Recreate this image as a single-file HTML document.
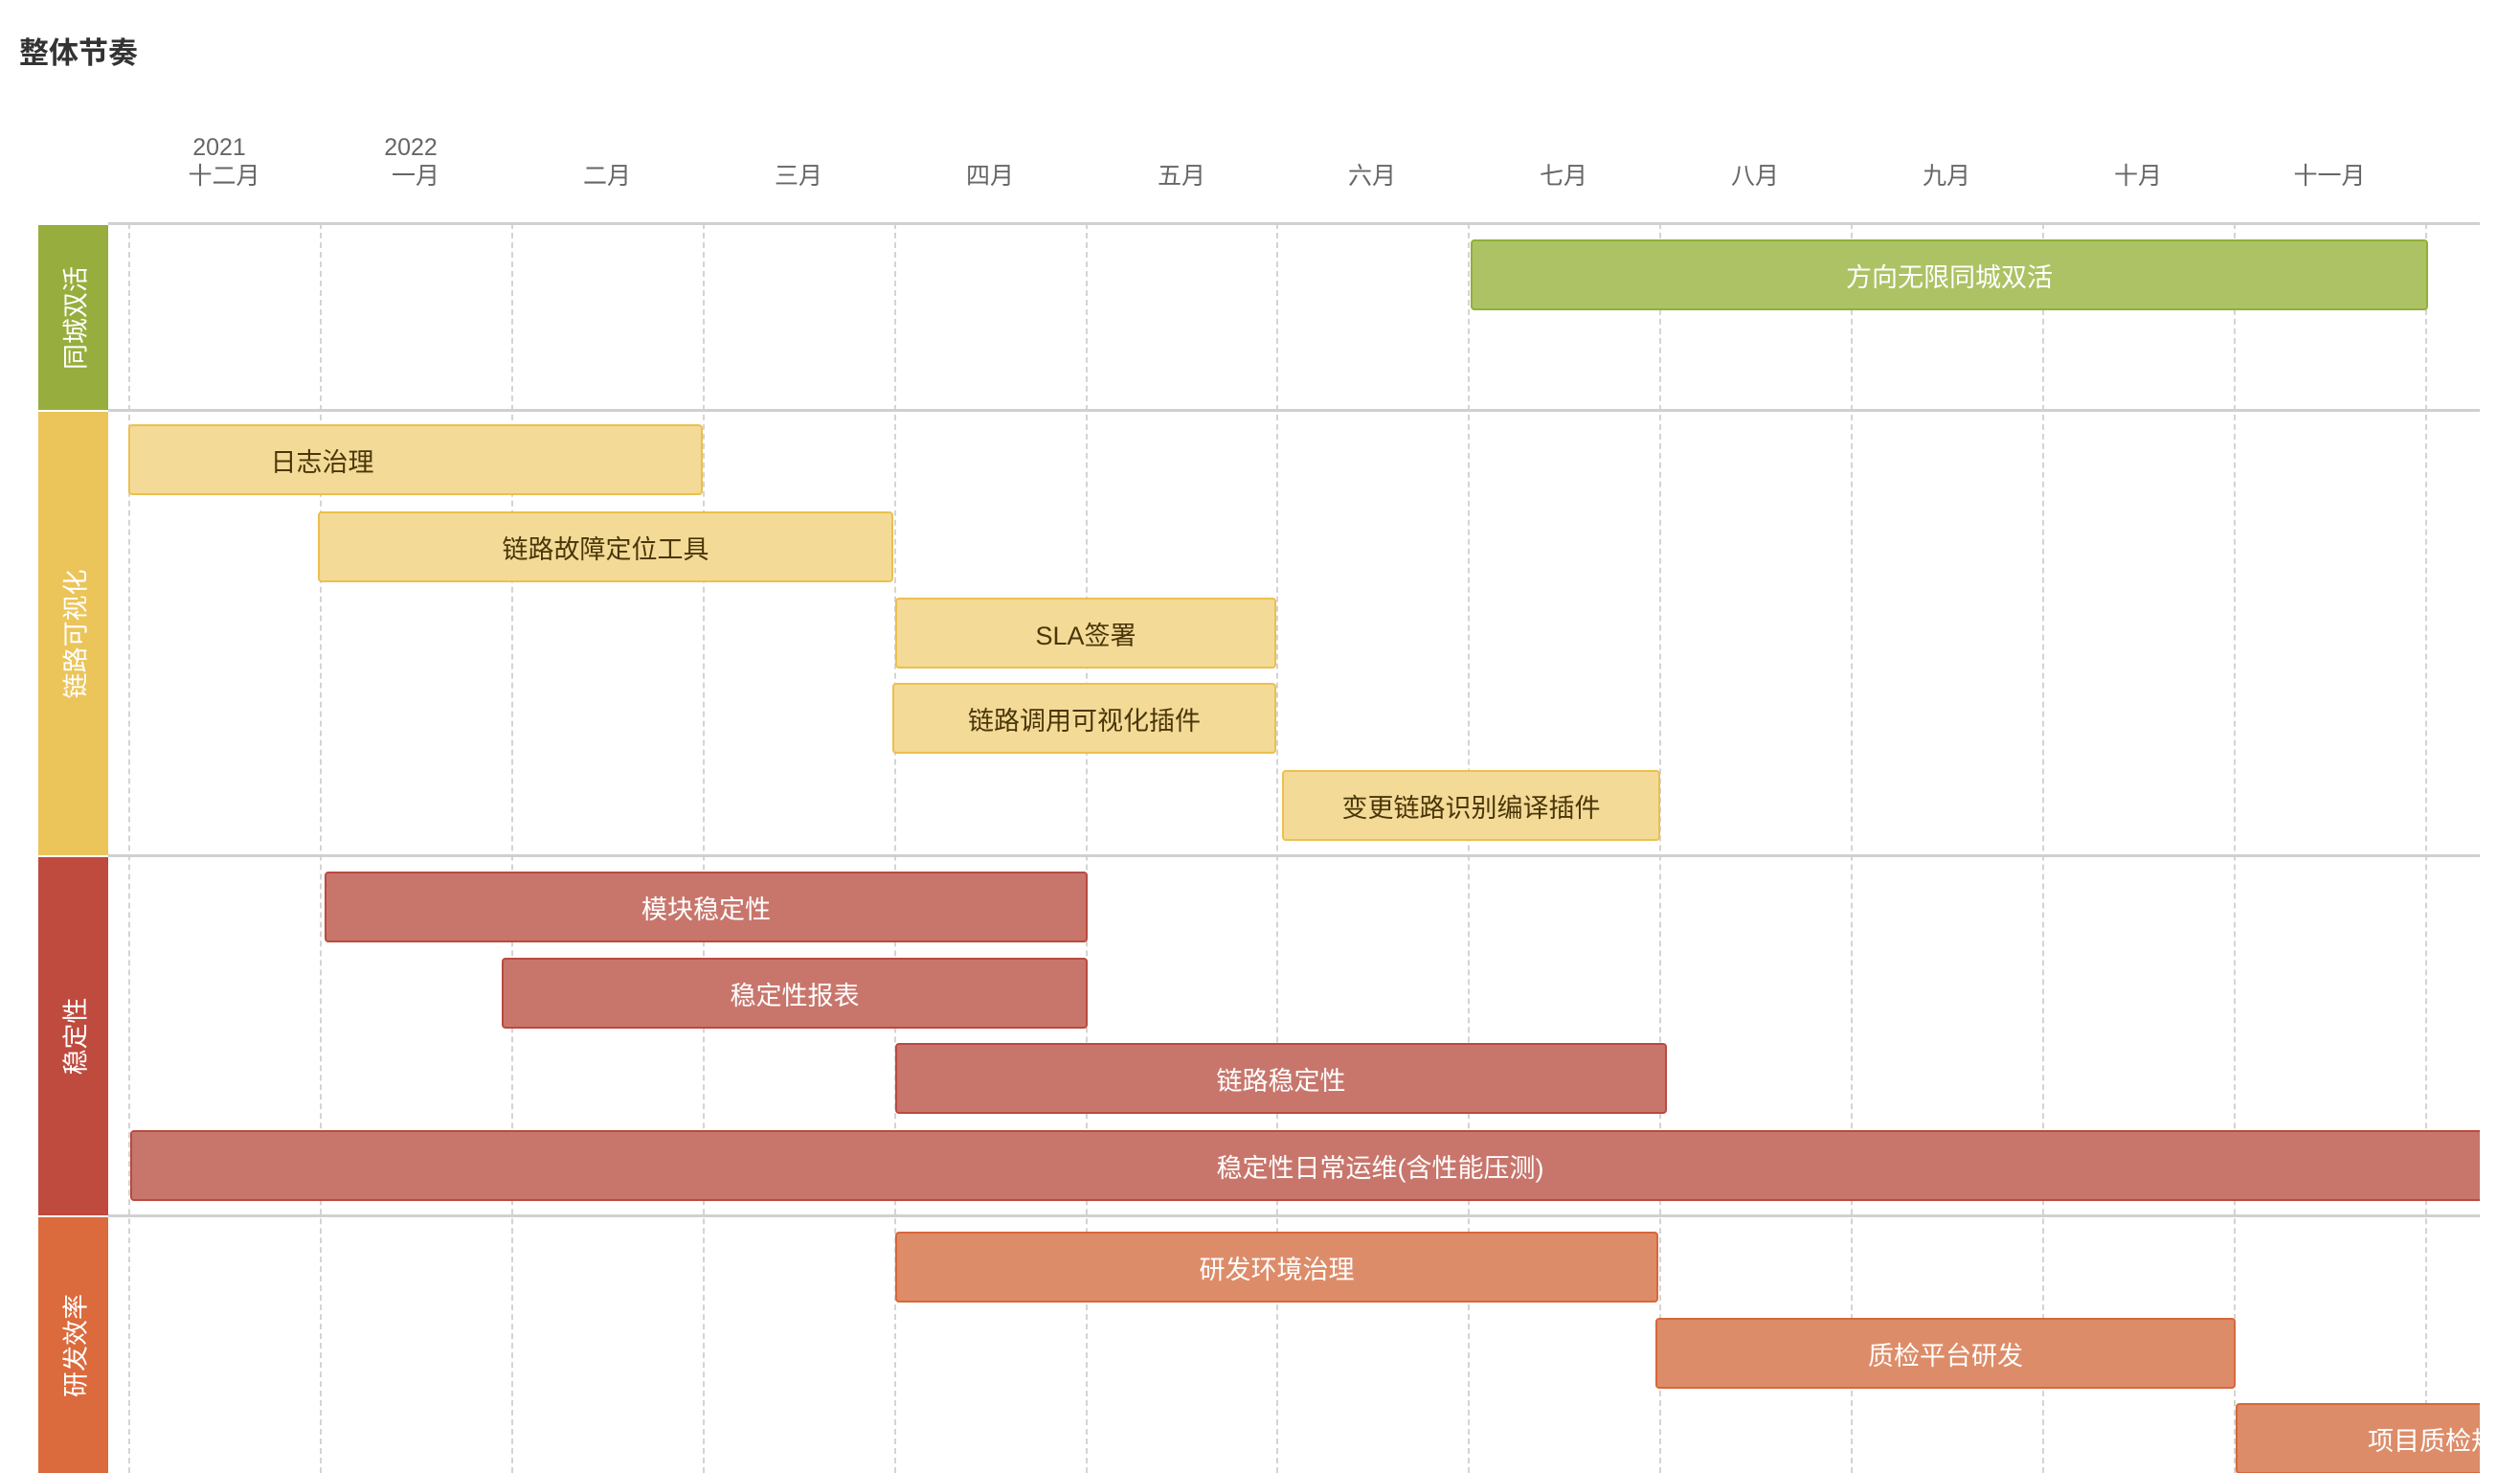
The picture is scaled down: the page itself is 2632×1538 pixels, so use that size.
<!DOCTYPE html>
<html><head><meta charset="utf-8"><style>
*{margin:0;padding:0;box-sizing:border-box}
body{width:2632px;height:1538px;background:#fff;position:relative;overflow:hidden;font-family:"Liberation Sans","Noto Sans CJK SC",sans-serif}
.t{position:absolute;left:20px;top:30px;font-size:31px;font-weight:bold;color:#333}
.m{position:absolute;width:200px;text-align:center;color:#666;font-size:25px;line-height:30px}
.lane{position:absolute;left:40px;width:73px}
.lane span{position:absolute;left:50%;top:50%;transform:translate(-50%,-50%) rotate(-90deg);color:#fff;font-size:27px;white-space:nowrap}
.chart{position:absolute;left:113px;top:0;width:2477px;height:1538px;overflow:hidden}
.v{position:absolute;top:233px;height:1305px;border-left:2px dashed #d4d4d4}
.h{position:absolute;left:0;width:2477px;height:3px;background:#d0d0d0}
.b{position:absolute;height:74px;border:2px solid;border-radius:4px;display:flex;align-items:center;justify-content:center;font-size:27px;white-space:nowrap;overflow:hidden}
.g{background:#adc264;border-color:#8fb03a;color:#fff}
.y{background:#f3da97;border-color:#ebc04f;color:#4a3608}
.r{background:#c8766c;border-color:#b94a3f;color:#fff}
.o{background:#dd8c69;border-color:#d9663a;color:#fff}
</style></head><body>
<div class="t">整体节奏</div>
<div class="m" style="left:129px;top:139px">2021</div>
<div class="m" style="left:329px;top:139px">2022</div>
<div class="m" style="left:134px;top:169px">十二月</div>
<div class="m" style="left:334px;top:169px">一月</div>
<div class="m" style="left:534px;top:169px">二月</div>
<div class="m" style="left:734px;top:169px">三月</div>
<div class="m" style="left:934px;top:169px">四月</div>
<div class="m" style="left:1134px;top:169px">五月</div>
<div class="m" style="left:1333px;top:169px">六月</div>
<div class="m" style="left:1533px;top:169px">七月</div>
<div class="m" style="left:1733px;top:169px">八月</div>
<div class="m" style="left:1933px;top:169px">九月</div>
<div class="m" style="left:2133px;top:169px">十月</div>
<div class="m" style="left:2333px;top:169px">十一月</div>

<div class="lane" style="top:235px;height:193px;background:#97ae3e"><span>同城双活</span></div>
<div class="lane" style="top:430px;height:463px;background:#ebc45a"><span>链路可视化</span></div>
<div class="lane" style="top:895px;height:374px;background:#bf4a3e"><span>稳定性</span></div>
<div class="lane" style="top:1271px;height:267px;background:#db6a3c"><span>研发效率</span></div>

<div class="chart">
<div class="v" style="left:21px"></div><div class="v" style="left:221px"></div><div class="v" style="left:421px"></div><div class="v" style="left:621px"></div><div class="v" style="left:821px"></div><div class="v" style="left:1021px"></div><div class="v" style="left:1220px"></div><div class="v" style="left:1420px"></div><div class="v" style="left:1620px"></div><div class="v" style="left:1820px"></div><div class="v" style="left:2020px"></div><div class="v" style="left:2220px"></div><div class="v" style="left:2420px"></div>
<div class="h" style="top:232px;left:-73px;width:2550px"></div>
<div class="h" style="top:427px"></div>
<div class="h" style="top:892px"></div>
<div class="h" style="top:1268px"></div>

<div class="b g" style="left:1423px;top:250px;width:1000px">方向无限同城双活</div>
<div class="b y" style="left:21px;top:443px;width:600px;padding-right:195px">日志治理</div>
<div class="b y" style="left:219px;top:534px;width:601px">链路故障定位工具</div>
<div class="b y" style="left:822px;top:624px;width:398px">SLA签署</div>
<div class="b y" style="left:819px;top:713px;width:401px">链路调用可视化插件</div>
<div class="b y" style="left:1226px;top:804px;width:395px">变更链路识别编译插件</div>
<div class="b r" style="left:226px;top:910px;width:797px">模块稳定性</div>
<div class="b r" style="left:411px;top:1000px;width:612px">稳定性报表</div>
<div class="b r" style="left:822px;top:1089px;width:806px">链路稳定性</div>
<div class="b r" style="left:23px;top:1180px;width:2470px;padding-left:141px">稳定性日常运维(含性能压测)</div>
<div class="b o" style="left:822px;top:1286px;width:797px">研发环境治理</div>
<div class="b o" style="left:1616px;top:1376px;width:606px">质检平台研发</div>
<div class="b o" style="left:2222px;top:1465px;width:600px;justify-content:flex-start;padding-left:136px">项目质检规范</div>
</div>
</body></html>
